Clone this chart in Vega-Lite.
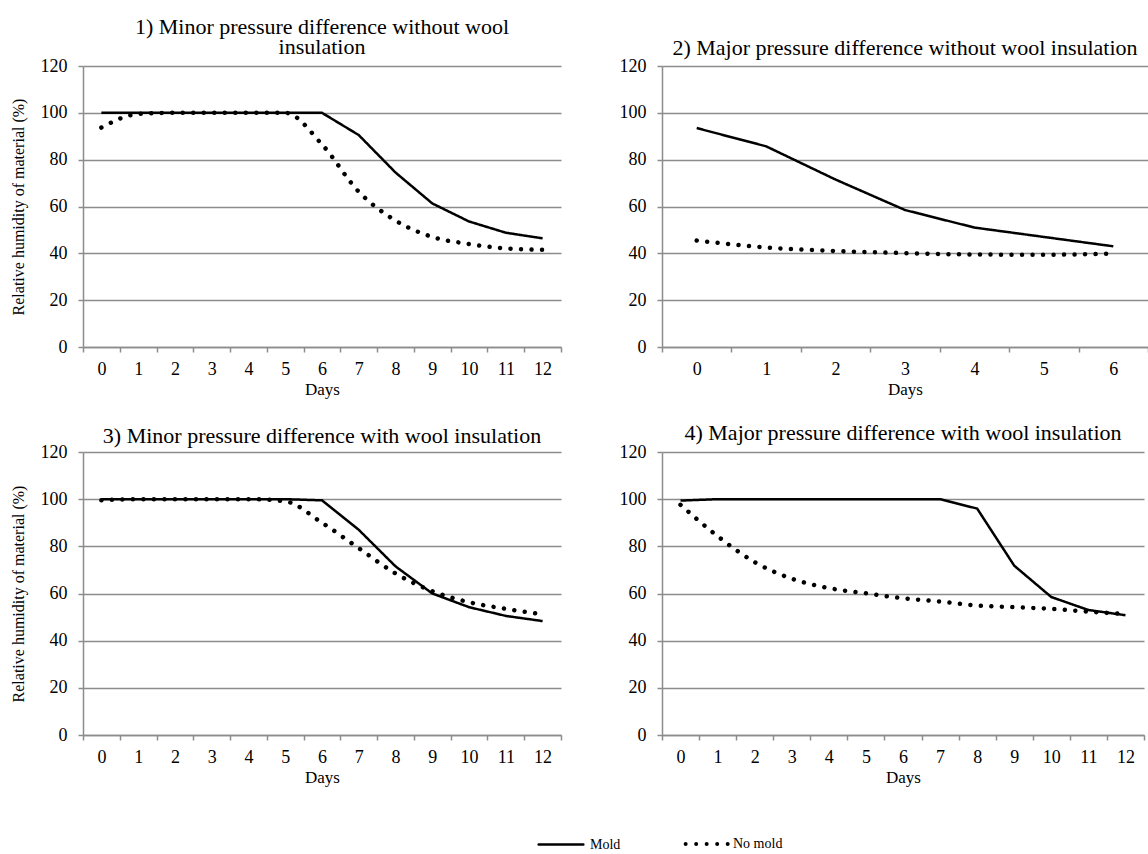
{
  "$schema": "https://vega.github.io/schema/vega-lite/v6.json",
  "background": "white",
  "padding": {"left": 10, "top": 16, "right": 0, "bottom": 0},
  "config": {
    "font": "Liberation Serif",
    "view": {"stroke": null},
    "axis": {
      "labelFont": "Liberation Serif", "titleFont": "Liberation Serif",
      "labelColor": "black", "titleColor": "black",
      "domainColor": "#8c8c8c", "tickColor": "#8c8c8c", "domainWidth": 1.5, "tickWidth": 1.5,
      "gridColor": "#8c8c8c", "gridWidth": 1.5,
      "labelFontSize": 18, "titleFontSize": 17, "titleFontWeight": "normal", "tickSize": 5
    },
    "axisX": {"grid": false, "tickBand": "extent", "labelAngle": 0, "labelPadding": 8, "titlePadding": 3},
    "axisY": {"grid": true, "labelPadding": 11, "titlePadding": 14, "titleFontSize": 16},
    "title": {"font": "Liberation Serif", "fontSize": 22, "fontWeight": "normal", "color": "black", "offset": 0, "lineHeight": 20},
    "legend": {"labelFont": "Liberation Serif", "labelFontSize": 14, "labelColor": "black"}
  },
  "datasets": {
    "d": [
      {"panel": 1, "series": "Mold", "day": 0, "rh": 100},
      {"panel": 1, "series": "Mold", "day": 1, "rh": 100},
      {"panel": 1, "series": "Mold", "day": 2, "rh": 100},
      {"panel": 1, "series": "Mold", "day": 3, "rh": 100},
      {"panel": 1, "series": "Mold", "day": 4, "rh": 100},
      {"panel": 1, "series": "Mold", "day": 5, "rh": 100},
      {"panel": 1, "series": "Mold", "day": 6, "rh": 100},
      {"panel": 1, "series": "Mold", "day": 7, "rh": 90.5},
      {"panel": 1, "series": "Mold", "day": 8, "rh": 74.5},
      {"panel": 1, "series": "Mold", "day": 9, "rh": 61.3},
      {"panel": 1, "series": "Mold", "day": 10, "rh": 53.6},
      {"panel": 1, "series": "Mold", "day": 11, "rh": 48.8},
      {"panel": 1, "series": "Mold", "day": 12, "rh": 46.4},
      {"panel": 1, "series": "No mold", "day": 0, "rh": 93.7},
      {"panel": 1, "series": "No mold", "day": 1, "rh": 99.5},
      {"panel": 1, "series": "No mold", "day": 2, "rh": 100},
      {"panel": 1, "series": "No mold", "day": 3, "rh": 100},
      {"panel": 1, "series": "No mold", "day": 4, "rh": 100},
      {"panel": 1, "series": "No mold", "day": 5, "rh": 100},
      {"panel": 1, "series": "No mold", "day": 6, "rh": 86.5},
      {"panel": 1, "series": "No mold", "day": 7, "rh": 66.3},
      {"panel": 1, "series": "No mold", "day": 8, "rh": 54},
      {"panel": 1, "series": "No mold", "day": 9, "rh": 47},
      {"panel": 1, "series": "No mold", "day": 10, "rh": 44},
      {"panel": 1, "series": "No mold", "day": 11, "rh": 42.1},
      {"panel": 1, "series": "No mold", "day": 12, "rh": 41.5},
      {"panel": 2, "series": "Mold", "day": 0, "rh": 93.5},
      {"panel": 2, "series": "Mold", "day": 1, "rh": 85.7},
      {"panel": 2, "series": "Mold", "day": 2, "rh": 71.5},
      {"panel": 2, "series": "Mold", "day": 3, "rh": 58.5},
      {"panel": 2, "series": "Mold", "day": 4, "rh": 51},
      {"panel": 2, "series": "Mold", "day": 5, "rh": 47},
      {"panel": 2, "series": "Mold", "day": 6, "rh": 43},
      {"panel": 2, "series": "No mold", "day": 0, "rh": 45.5},
      {"panel": 2, "series": "No mold", "day": 1, "rh": 42.5},
      {"panel": 2, "series": "No mold", "day": 2, "rh": 41},
      {"panel": 2, "series": "No mold", "day": 3, "rh": 40.1},
      {"panel": 2, "series": "No mold", "day": 4, "rh": 39.5},
      {"panel": 2, "series": "No mold", "day": 5, "rh": 39.4},
      {"panel": 2, "series": "No mold", "day": 6, "rh": 39.9},
      {"panel": 3, "series": "Mold", "day": 0, "rh": 100},
      {"panel": 3, "series": "Mold", "day": 1, "rh": 100},
      {"panel": 3, "series": "Mold", "day": 2, "rh": 100},
      {"panel": 3, "series": "Mold", "day": 3, "rh": 100},
      {"panel": 3, "series": "Mold", "day": 4, "rh": 100},
      {"panel": 3, "series": "Mold", "day": 5, "rh": 100},
      {"panel": 3, "series": "Mold", "day": 6, "rh": 99.5},
      {"panel": 3, "series": "Mold", "day": 7, "rh": 87},
      {"panel": 3, "series": "Mold", "day": 8, "rh": 71.5},
      {"panel": 3, "series": "Mold", "day": 9, "rh": 60},
      {"panel": 3, "series": "Mold", "day": 10, "rh": 54.2},
      {"panel": 3, "series": "Mold", "day": 11, "rh": 50.5},
      {"panel": 3, "series": "Mold", "day": 12, "rh": 48.3},
      {"panel": 3, "series": "No mold", "day": 0, "rh": 99.5},
      {"panel": 3, "series": "No mold", "day": 1, "rh": 100},
      {"panel": 3, "series": "No mold", "day": 2, "rh": 100},
      {"panel": 3, "series": "No mold", "day": 3, "rh": 100},
      {"panel": 3, "series": "No mold", "day": 4, "rh": 100},
      {"panel": 3, "series": "No mold", "day": 5, "rh": 99.1},
      {"panel": 3, "series": "No mold", "day": 6, "rh": 90},
      {"panel": 3, "series": "No mold", "day": 7, "rh": 79.2},
      {"panel": 3, "series": "No mold", "day": 8, "rh": 68.5},
      {"panel": 3, "series": "No mold", "day": 9, "rh": 61},
      {"panel": 3, "series": "No mold", "day": 10, "rh": 56.3},
      {"panel": 3, "series": "No mold", "day": 11, "rh": 53.5},
      {"panel": 3, "series": "No mold", "day": 12, "rh": 51.2},
      {"panel": 4, "series": "Mold", "day": 0, "rh": 99.4},
      {"panel": 4, "series": "Mold", "day": 1, "rh": 100},
      {"panel": 4, "series": "Mold", "day": 2, "rh": 100},
      {"panel": 4, "series": "Mold", "day": 3, "rh": 100},
      {"panel": 4, "series": "Mold", "day": 4, "rh": 100},
      {"panel": 4, "series": "Mold", "day": 5, "rh": 100},
      {"panel": 4, "series": "Mold", "day": 6, "rh": 100},
      {"panel": 4, "series": "Mold", "day": 7, "rh": 100},
      {"panel": 4, "series": "Mold", "day": 8, "rh": 96},
      {"panel": 4, "series": "Mold", "day": 9, "rh": 71.8},
      {"panel": 4, "series": "Mold", "day": 10, "rh": 58.5},
      {"panel": 4, "series": "Mold", "day": 11, "rh": 53},
      {"panel": 4, "series": "Mold", "day": 12, "rh": 50.8},
      {"panel": 4, "series": "No mold", "day": 0, "rh": 97.6},
      {"panel": 4, "series": "No mold", "day": 1, "rh": 84.3},
      {"panel": 4, "series": "No mold", "day": 2, "rh": 73.3},
      {"panel": 4, "series": "No mold", "day": 3, "rh": 66.3},
      {"panel": 4, "series": "No mold", "day": 4, "rh": 62.3},
      {"panel": 4, "series": "No mold", "day": 5, "rh": 60.1},
      {"panel": 4, "series": "No mold", "day": 6, "rh": 58},
      {"panel": 4, "series": "No mold", "day": 7, "rh": 56.6},
      {"panel": 4, "series": "No mold", "day": 8, "rh": 54.9},
      {"panel": 4, "series": "No mold", "day": 9, "rh": 54.2},
      {"panel": 4, "series": "No mold", "day": 10, "rh": 53.5},
      {"panel": 4, "series": "No mold", "day": 11, "rh": 52.3},
      {"panel": 4, "series": "No mold", "day": 12, "rh": 51.3}
    ]
  },
  "bounds": "flush",
  "columns": 2,
  "spacing": {"row": 105, "column": 101},
  "concat": [
    {
      "width": 478, "height": 281,
      "title": {"text": ["1) Minor pressure difference without wool", "insulation"], "offset": -2},
      "data": {"name": "d"},
      "transform": [{"filter": "datum.panel === 1"}],
      "encoding": {
        "x": {"field": "day", "type": "ordinal", "scale": {"type": "band", "paddingInner": 0, "paddingOuter": 0}, "bandPosition": 0.5, "title": "Days"},
        "y": {"field": "rh", "type": "quantitative", "scale": {"domain": [0, 120]}, "axis": {"values": [0, 20, 40, 60, 80, 100, 120]}, "title": "Relative humidity of material (%)"},
        "strokeDash": {"field": "series", "type": "nominal", "scale": {"domain": ["Mold", "No mold"], "range": [[1, 0], [0.01, 10.5]]},
          "legend": {"title": null, "orient": "none", "direction": "horizontal", "legendX": 471, "legendY": 771, "symbolType": "stroke", "symbolSize": 2000, "symbolStrokeColor": "black", "symbolStrokeWidth": 2.5, "labelOffset": 22, "columnPadding": 56,
            "encode": {
              "symbols": {"update": {"strokeCap": {"value": "round"}, "strokeWidth": {"signal": "datum.label === 'Mold' ? 2.5 : 4"}}},
              "labels": {"update": {"dx": {"signal": "datum.label === 'No mold' ? -4 : 0"}}}
            }}}
      },
      "layer": [
        {"transform": [{"filter": "datum.series === 'Mold'"}], "mark": {"type": "line", "color": "black", "strokeWidth": 2.5, "interpolate": "linear"}},
        {"transform": [{"filter": "datum.series === 'No mold'"}], "mark": {"type": "line", "color": "black", "strokeWidth": 4.5, "strokeCap": "round", "interpolate": "monotone"}}
      ]
    },
    {
      "width": 486, "height": 281,
      "title": {"text": "2) Major pressure difference without wool insulation", "offset": -3},
      "data": {"name": "d"},
      "transform": [{"filter": "datum.panel === 2"}],
      "encoding": {
        "x": {"field": "day", "type": "ordinal", "scale": {"type": "band", "paddingInner": 0, "paddingOuter": 0}, "bandPosition": 0.5, "title": "Days"},
        "y": {"field": "rh", "type": "quantitative", "scale": {"domain": [0, 120]}, "axis": {"values": [0, 20, 40, 60, 80, 100, 120]}, "title": null},
        "strokeDash": {"field": "series", "type": "nominal", "scale": {"domain": ["Mold", "No mold"], "range": [[1, 0], [0.01, 10.5]]}}
      },
      "layer": [
        {"transform": [{"filter": "datum.series === 'Mold'"}], "mark": {"type": "line", "color": "black", "strokeWidth": 2.5, "interpolate": "linear"}},
        {"transform": [{"filter": "datum.series === 'No mold'"}], "mark": {"type": "line", "color": "black", "strokeWidth": 4.5, "strokeCap": "round", "interpolate": "monotone"}}
      ]
    },
    {
      "width": 478, "height": 283,
      "title": {"text": "3) Minor pressure difference with wool insulation", "offset": -5},
      "data": {"name": "d"},
      "transform": [{"filter": "datum.panel === 3"}],
      "encoding": {
        "x": {"field": "day", "type": "ordinal", "scale": {"type": "band", "paddingInner": 0, "paddingOuter": 0}, "bandPosition": 0.5, "title": "Days"},
        "y": {"field": "rh", "type": "quantitative", "scale": {"domain": [0, 120]}, "axis": {"values": [0, 20, 40, 60, 80, 100, 120]}, "title": "Relative humidity of material (%)"},
        "strokeDash": {"field": "series", "type": "nominal", "scale": {"domain": ["Mold", "No mold"], "range": [[1, 0], [0.01, 10.5]]}}
      },
      "layer": [
        {"transform": [{"filter": "datum.series === 'Mold'"}], "mark": {"type": "line", "color": "black", "strokeWidth": 2.5, "interpolate": "linear"}},
        {"transform": [{"filter": "datum.series === 'No mold'"}], "mark": {"type": "line", "color": "black", "strokeWidth": 4.5, "strokeCap": "round", "interpolate": "monotone"}}
      ]
    },
    {
      "width": 482, "height": 283,
      "title": {"text": "4) Major pressure difference with wool insulation", "offset": -2},
      "data": {"name": "d"},
      "transform": [{"filter": "datum.panel === 4"}],
      "encoding": {
        "x": {"field": "day", "type": "ordinal", "scale": {"type": "band", "paddingInner": 0, "paddingOuter": 0}, "bandPosition": 0.5, "title": "Days"},
        "y": {"field": "rh", "type": "quantitative", "scale": {"domain": [0, 120]}, "axis": {"values": [0, 20, 40, 60, 80, 100, 120]}, "title": null},
        "strokeDash": {"field": "series", "type": "nominal", "scale": {"domain": ["Mold", "No mold"], "range": [[1, 0], [0.01, 10.5]]}}
      },
      "layer": [
        {"transform": [{"filter": "datum.series === 'Mold'"}], "mark": {"type": "line", "color": "black", "strokeWidth": 2.5, "interpolate": "linear"}},
        {"transform": [{"filter": "datum.series === 'No mold'"}], "mark": {"type": "line", "color": "black", "strokeWidth": 4.5, "strokeCap": "round", "interpolate": "monotone"}}
      ]
    }
  ]
}
